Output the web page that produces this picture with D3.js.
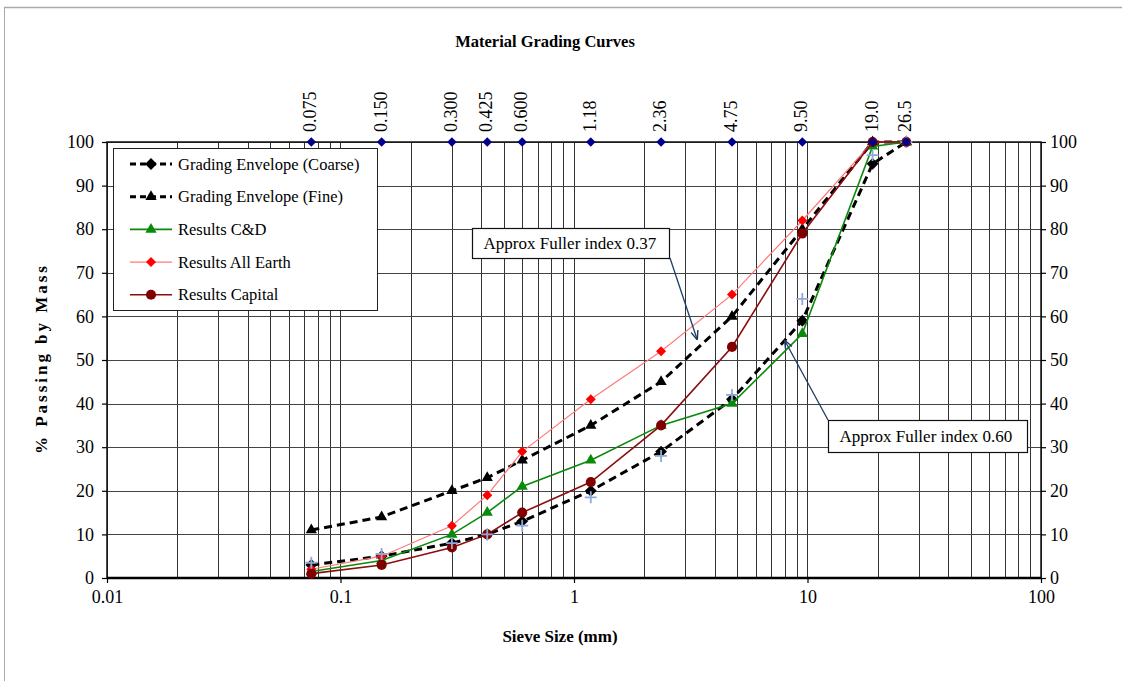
<!DOCTYPE html>
<html>
<head>
<meta charset="utf-8">
<script src="https://cdn.jsdelivr.net/npm/d3@7"></script>
<style>
  body { margin: 0; background: #fff; }
  svg { display: block; font-family: "Liberation Serif", "Times New Roman", serif; }
</style>
</head>
<body>
<svg id="chart" width="1122" height="681"></svg>
<script>
// sieve sizes (mm)
var sieves = [0.075, 0.15, 0.3, 0.425, 0.6, 1.18, 2.36, 4.75, 9.5, 19, 26.5];
var sieveLabels = ['0.075', '0.150', '0.300', '0.425', '0.600', '1.18', '2.36', '4.75', '9.50', '19.0', '26.5'];

// % passing
var coarse   = [3, 5, 8, 10, 13, 20, 29, 41, 59, 95, 100];
var fine     = [11, 14, 20, 23, 27, 35, 45, 60, 80, 100, 100];
var resultCD = [1.5, 4, 10, 15, 21, 27, 35, 40, 56, 99, 100];
var allEarth = [2, 5, 12, 19, 29, 41, 52, 65, 82, 100, 100];
var capital  = [1, 3, 7, 10, 15, 22, 35, 53, 79, 100, 100];
var crosses  = [3.5, 5.5, 8, 10, 12, 18.5, 28, 42, 64, 97, 100];

var xTicks = [0.01, 0.1, 1, 10, 100];
var yTicks = [0, 10, 20, 30, 40, 50, 60, 70, 80, 90, 100];

var svg = d3.select('#chart');

// outer frame
svg.append('line').attr('x1', 4).attr('x2', 1122).attr('y1', 7.5).attr('y2', 7.5)
    .attr('stroke', '#aaa').attr('stroke-width', 1.5);
svg.append('line').attr('x1', 4.5).attr('x2', 4.5).attr('y1', 7).attr('y2', 681)
    .attr('stroke', '#aaa').attr('stroke-width', 1);

var x = d3.scaleLog().domain([0.01, 100]).range([107, 1041]);
var y = d3.scaleLinear().domain([0, 100]).range([578, 142]);

// gridlines
var minor = [];
[0.01, 0.1, 1, 10].forEach(function(d) {
    for (var k = 1; k < 10; k++) minor.push(d * k);
});
minor.push(100);

svg.append('g').selectAll('line.vg')
    .data(minor)
    .enter().append('line')
    .attr('x1', function(d) { return Math.round(x(d)) + 0.5; })
    .attr('x2', function(d) { return Math.round(x(d)) + 0.5; })
    .attr('y1', y(100)).attr('y2', y(0))
    .attr('stroke', '#333').attr('stroke-width', 1);

svg.append('g').selectAll('line.hg')
    .data(yTicks)
    .enter().append('line')
    .attr('x1', x(0.01)).attr('x2', x(100))
    .attr('y1', function(d) { return Math.round(y(d)) + 0.5; })
    .attr('y2', function(d) { return Math.round(y(d)) + 0.5; })
    .attr('stroke', '#444').attr('stroke-width', 1.2);

// frame of plot
svg.append('rect')
    .attr('x', x(0.01)).attr('y', y(100))
    .attr('width', x(100) - x(0.01)).attr('height', y(0) - y(100))
    .attr('fill', 'none').attr('stroke', '#111').attr('stroke-width', 1.5);
svg.append('line').attr('x1', x(0.01)).attr('x2', x(100)).attr('y1', y(0)).attr('y2', y(0))
    .attr('stroke', '#000').attr('stroke-width', 2.5);

// axes
var xAxis = svg.append('g')
    .attr('transform', 'translate(0,' + y(0) + ')')
    .call(d3.axisBottom(x).tickValues(xTicks).tickSize(5).tickFormat(function(d) { return String(d); }));
var yLeft = svg.append('g')
    .attr('transform', 'translate(' + x(0.01) + ',0)')
    .call(d3.axisLeft(y).tickValues(yTicks).tickSize(5));
var yRight = svg.append('g')
    .attr('transform', 'translate(' + x(100) + ',0)')
    .call(d3.axisRight(y).tickValues(yTicks).tickSize(5));

[xAxis, yLeft, yRight].forEach(function(a) {
    a.attr('font-family', null).attr('font-size', null);
    a.select('.domain').remove();
    a.selectAll('line').attr('stroke', '#000').attr('stroke-width', 1.2);
    a.selectAll('text').attr('font-family', 'Liberation Serif').attr('font-size', 18).attr('fill', '#000');
});
xAxis.selectAll('text').attr('dy', '0.95em');
yLeft.selectAll('text').attr('x', -13);
yRight.selectAll('text').attr('x', 9);

// top sieve labels
svg.append('g').selectAll('text')
    .data(sieves)
    .enter().append('text')
    .attr('transform', function(d) { return 'translate(' + (x(d) + 5) + ',132) rotate(-90)'; })
    .attr('font-size', 18)
    .text(function(d, i) { return sieveLabels[i]; });

// square rotated 45 degrees
var diamond = {
    draw: function(context, size) {
        var r = Math.sqrt(size / 2);
        context.moveTo(0, -r);
        context.lineTo(r, 0);
        context.lineTo(0, r);
        context.lineTo(-r, 0);
        context.closePath();
    }
};

// series
var seriesDefs = [
    { name: 'Grading Envelope (Coarse)', values: coarse, color: '#000', width: 3, dash: '8,5', symbol: diamond, size: 70, mcolor: '#000' },
    { name: 'Grading Envelope (Fine)', values: fine, color: '#000', width: 3, dash: '8,5', symbol: d3.symbolTriangle, size: 55, mcolor: '#000' },
    { name: 'Results C&D', values: resultCD, color: '#0a8a0a', width: 1.6, dash: null, symbol: d3.symbolTriangle, size: 55, mcolor: '#0a8a0a' },
    { name: 'Results All Earth', values: allEarth, color: '#ff7a7a', width: 1.2, dash: null, symbol: diamond, size: 50, mcolor: '#ff0000' },
    { name: 'Results Capital', values: capital, color: '#8b0d0d', width: 1.6, dash: null, symbol: d3.symbolCircle, size: 80, mcolor: '#800000' }
];

var line = d3.line()
    .x(function(d) { return x(d[0]); })
    .y(function(d) { return y(d[1]); });

seriesDefs.forEach(function(s) {
    var pts = sieves.map(function(d, i) { return [d, s.values[i]]; });
    var g = svg.append('g');
    g.append('path')
        .attr('d', line(pts))
        .attr('fill', 'none')
        .attr('stroke', s.color)
        .attr('stroke-width', s.width)
        .attr('stroke-dasharray', s.dash);
    g.selectAll('path.m')
        .data(pts)
        .enter().append('path')
        .attr('transform', function(d) { return 'translate(' + x(d[0]) + ',' + y(d[1]) + ')'; })
        .attr('d', d3.symbol().type(s.symbol).size(s.size))
        .attr('fill', s.mcolor);
});

// light blue crosses
svg.append('g').selectAll('path')
    .data(sieves)
    .enter().append('path')
    .attr('transform', function(d, i) { return 'translate(' + x(d) + ',' + y(crosses[i]) + ')'; })
    .attr('d', 'M-6,0H6M0,-6V6')
    .attr('stroke', '#8faad8').attr('stroke-width', 1.8);

// navy diamonds on the top edge
svg.append('g').selectAll('path')
    .data(sieves)
    .enter().append('path')
    .attr('transform', function(d) { return 'translate(' + x(d) + ',' + y(100) + ')'; })
    .attr('d', d3.symbol().type(diamond).size(45))
    .attr('fill', '#00008b');

// legend
var lg = svg.append('g');
lg.append('rect').attr('x', 113.5).attr('y', 148.5).attr('width', 264).attr('height', 162)
    .attr('fill', '#fff').attr('stroke', '#222').attr('stroke-width', 1);
seriesDefs.forEach(function(s, i) {
    var ly = 164 + i * 32.7;
    lg.append('line').attr('x1', 130).attr('x2', 172).attr('y1', ly).attr('y2', ly)
        .attr('stroke', s.color).attr('stroke-width', s.width).attr('stroke-dasharray', s.dash ? '6,4' : null);
    lg.append('path').attr('transform', 'translate(151,' + ly + ')')
        .attr('d', d3.symbol().type(s.symbol).size(s.size)).attr('fill', s.mcolor);
    lg.append('text').attr('x', 178).attr('y', ly + 5.5).attr('font-size', 16.5).text(s.name);
});

// annotations
var arrowColor = '#1f3b64';
svg.append('defs').append('marker')
    .attr('id', 'arr').attr('viewBox', '0 0 10 10').attr('refX', 9).attr('refY', 5)
    .attr('markerWidth', 7).attr('markerHeight', 7).attr('orient', 'auto')
    .append('path').attr('d', 'M0,1L10,5L0,9').attr('fill', 'none').attr('stroke', arrowColor).attr('stroke-width', 1.6);

function note(bx, by, bw, bh, label, ax1, ay1, ax2, ay2) {
    svg.append('line').attr('x1', ax1).attr('y1', ay1).attr('x2', ax2).attr('y2', ay2)
        .attr('stroke', arrowColor).attr('stroke-width', 1.3).attr('marker-end', 'url(#arr)');
    svg.append('rect').attr('x', bx).attr('y', by).attr('width', bw).attr('height', bh)
        .attr('fill', '#fff').attr('stroke', '#111').attr('stroke-width', 1.2);
    svg.append('text').attr('x', bx + 11).attr('y', by + bh / 2 + 5.5).attr('font-size', 17).text(label);
}
note(472.5, 228.5, 197, 30, 'Approx Fuller index 0.37', 670, 258, 697, 339);
note(828.5, 420.5, 199, 32, 'Approx Fuller index 0.60', 828, 420, 785, 341);

// titles
svg.append('text').attr('x', 545).attr('y', 47).attr('text-anchor', 'middle')
    .attr('font-size', 16.5).attr('font-weight', 'bold').text('Material Grading Curves');
svg.append('text').attr('x', 560).attr('y', 642).attr('text-anchor', 'middle')
    .attr('font-size', 17).attr('font-weight', 'bold').text('Sieve Size (mm)');
svg.append('text').attr('transform', 'translate(47,360) rotate(-90)').attr('text-anchor', 'middle')
    .attr('font-size', 17).attr('font-weight', 'bold')
    .attr('textLength', 188).attr('lengthAdjust', 'spacing')
    .text('% Passing by Mass');
</script>
</body>
</html>
